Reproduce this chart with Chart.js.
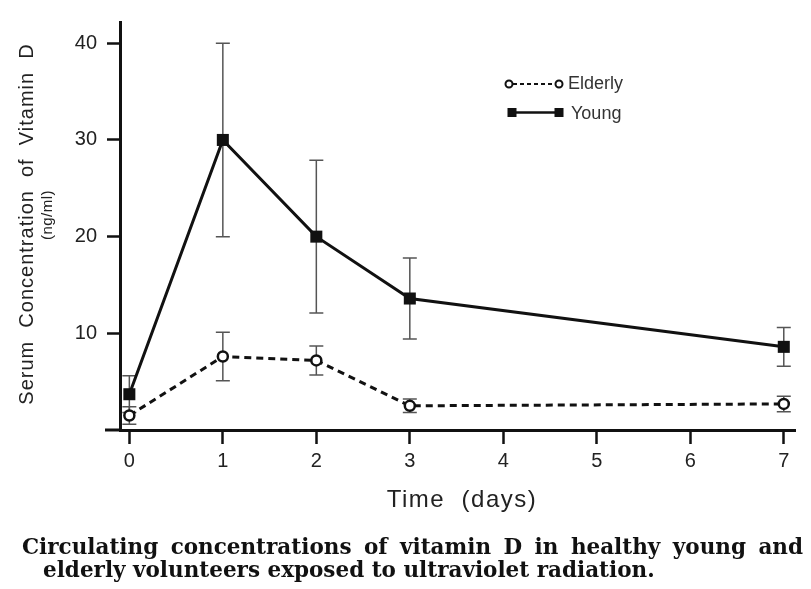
<!DOCTYPE html>
<html><head><meta charset="utf-8">
<script src="https://cdn.jsdelivr.net/npm/chart.js@4.4.1/dist/chart.umd.min.js"></script>
<style>
html,body{margin:0;padding:0;background:#fff;}
#wrap{position:relative;width:811px;height:589px;overflow:hidden;background:#fff;}
canvas{position:absolute;left:0;top:0;}
.cap{position:absolute;font-family:"DejaVu Serif","Liberation Serif",serif;font-weight:bold;font-size:21.5px;line-height:23px;color:#111;white-space:nowrap;}
#cap1{left:22px;top:535px;width:781px;text-align:justify;text-align-last:justify;white-space:normal;}
#cap2{left:43px;top:558px;}
</style></head>
<body><div id="wrap"><canvas id="c" width="811" height="589"></canvas>
<div class="cap" id="cap1">Circulating concentrations of vitamin D in healthy young and</div>
<div class="cap" id="cap2">elderly volunteers exposed to ultraviolet radiation.</div></div>
<script>
const days = [0, 1, 2, 3, 7];
const elderlyMean = [1.5, 7.6, 7.2, 2.5, 2.7];
const elderlyErr = [0.9, 2.5, 1.5, 0.7, 0.8];
const youngMean = [3.7, 30.0, 20.0, 13.6, 8.6];
const youngErr = [1.9, 10.0, 7.9, 4.2, 2.0];
const xTickValues = [0, 1, 2, 3, 4, 5, 6, 7];
const yTickValues = [10, 20, 30, 40];
const seriesNames = ['Elderly', 'Young'];
const xTitle = 'Time  (days)';
const yTitle = 'Serum  Concentration  of  Vitamin  D';
const yUnit = '(ng/ml)';

const SANS = '"Liberation Sans", Arial, Helvetica, sans-serif';

const errorBars = {
  id: 'errorBars',
  beforeDatasetsDraw(chart) {
    const {ctx, scales: {x, y}} = chart;
    ctx.save();
    ctx.strokeStyle = '#555';
    ctx.lineWidth = 1.5;
    [[elderlyMean, elderlyErr], [youngMean, youngErr]].forEach(([m, e]) => {
      days.forEach((d, i) => {
        const px = x.getPixelForValue(d);
        const top = y.getPixelForValue(m[i] + e[i]);
        const bot = y.getPixelForValue(Math.max(0, m[i] - e[i]));
        ctx.beginPath();
        ctx.moveTo(px, top); ctx.lineTo(px, bot);
        ctx.moveTo(px - 7, top); ctx.lineTo(px + 7, top);
        ctx.moveTo(px - 7, bot); ctx.lineTo(px + 7, bot);
        ctx.stroke();
      });
    });
    ctx.restore();
  }
};

const decorations = {
  id: 'decorations',
  afterDraw(chart) {
    const {ctx, chartArea: ca} = chart;
    ctx.save();
    // small extension of x axis to the left of the y axis
    ctx.strokeStyle = '#111';
    ctx.lineWidth = 3;
    ctx.beginPath();
    ctx.moveTo(105, ca.bottom); ctx.lineTo(ca.left, ca.bottom);
    ctx.stroke();

    // x title
    ctx.fillStyle = '#222';
    ctx.font = '24px ' + SANS;
    ctx.textAlign = 'center';
    ctx.textBaseline = 'alphabetic';
    ctx.letterSpacing = '1.5px';
    ctx.fillText(xTitle, 462, 507);

    // y title (rotated)
    ctx.save();
    ctx.translate(33, 224);
    ctx.rotate(-Math.PI / 2);
    ctx.font = '20px ' + SANS;
    ctx.letterSpacing = '1px';
    ctx.fillText(yTitle, 0, 0);
    ctx.restore();
    ctx.save();
    ctx.translate(52, 215);
    ctx.rotate(-Math.PI / 2);
    ctx.font = '15px ' + SANS;
    ctx.letterSpacing = '0.5px';
    ctx.fillText(yUnit, 0, 0);
    ctx.restore();

    // legend
    ctx.letterSpacing = '0px';
    ctx.strokeStyle = '#111';
    ctx.lineWidth = 2;
    ctx.setLineDash([4, 3]);
    ctx.beginPath(); ctx.moveTo(513, 84); ctx.lineTo(555, 84); ctx.stroke();
    ctx.setLineDash([]);
    [509, 559].forEach(cx => {
      ctx.beginPath(); ctx.arc(cx, 84, 3.5, 0, Math.PI * 2);
      ctx.fillStyle = '#fff'; ctx.fill();
      ctx.lineWidth = 2; ctx.stroke();
    });
    ctx.lineWidth = 2.5;
    ctx.beginPath(); ctx.moveTo(512, 112.5); ctx.lineTo(559, 112.5); ctx.stroke();
    ctx.fillStyle = '#111';
    [512, 559].forEach(cx => { ctx.fillRect(cx - 4.5, 108, 9, 9); });
    ctx.fillStyle = '#333';
    ctx.font = '18px ' + SANS;
    ctx.textAlign = 'left';
    ctx.fillText(seriesNames[0], 568, 89);
    ctx.fillText(seriesNames[1], 571, 119);
    ctx.restore();
  }
};

new Chart(document.getElementById('c'), {
  type: 'line',
  data: {
    datasets: [
      {
        label: seriesNames[0],
        data: days.map((d, i) => ({x: d, y: elderlyMean[i]})),
        borderColor: '#111',
        borderWidth: 3,
        borderDash: [7, 5],
        pointStyle: 'circle',
        pointRadius: 5,
        pointBorderWidth: 2.5,
        pointBackgroundColor: '#fff',
        pointBorderColor: '#111',
        tension: 0,
        clip: false
      },
      {
        label: seriesNames[1],
        data: days.map((d, i) => ({x: d, y: youngMean[i]})),
        borderColor: '#111',
        borderWidth: 3,
        pointStyle: 'rect',
        pointRadius: 8.5,
        pointBorderWidth: 0,
        pointBackgroundColor: '#111',
        pointBorderColor: '#111',
        tension: 0,
        clip: false
      }
    ]
  },
  options: {
    responsive: false,
    animation: false,
    devicePixelRatio: 1,
    layout: {padding: {top: 13, right: 16, bottom: 0, left: 0}},
    plugins: {legend: {display: false}, tooltip: {enabled: false}, title: {display: false}},
    scales: {
      x: {
        type: 'linear',
        min: -0.1,
        max: 7.12,
        afterBuildTicks: s => { s.ticks = xTickValues.map(v => ({value: v})); },
        afterFit: s => { s.height = 159; },
        grid: {display: true, drawOnChartArea: false, drawTicks: true, tickLength: 14, tickWidth: 2.5, tickColor: '#111'},
        border: {display: true, color: '#111', width: 3},
        ticks: {font: {family: SANS, size: 20}, color: '#222', padding: 5, maxRotation: 0}
      },
      y: {
        type: 'linear',
        min: 0,
        max: 42.2,
        afterBuildTicks: s => { s.ticks = yTickValues.map(v => ({value: v})); },
        afterFit: s => { s.width = 120; },
        grid: {display: true, drawOnChartArea: false, drawTicks: true, tickLength: 13, tickWidth: 2.5, tickColor: '#111'},
        border: {display: true, color: '#111', width: 3},
        ticks: {font: {family: SANS, size: 20}, color: '#222', padding: 10}
      }
    }
  },
  plugins: [errorBars, decorations]
});
</script>
</body></html>
